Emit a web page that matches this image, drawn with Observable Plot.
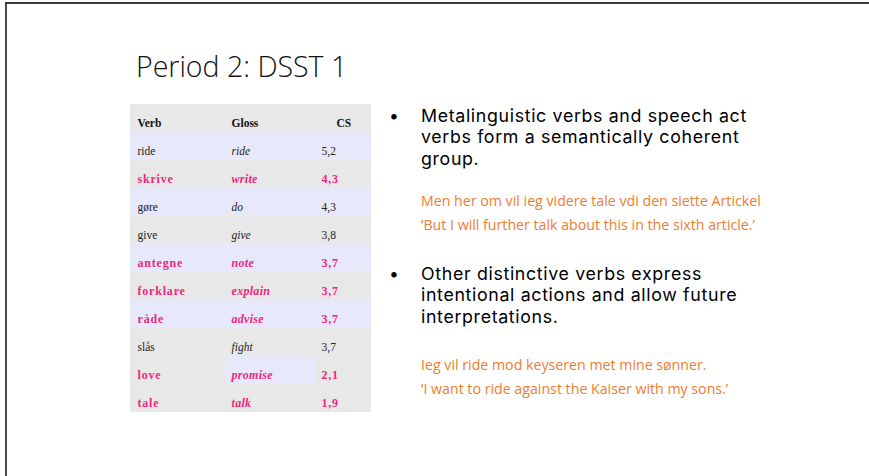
<!DOCTYPE html>
<html>
<head>
<meta charset="utf-8">
<script src="https://cdn.jsdelivr.net/npm/d3@7"></script>
<script src="https://cdn.jsdelivr.net/npm/@observablehq/plot@0.6"></script>
<style>
  html, body { margin: 0; padding: 0; background: #fff; overflow: hidden; }
  #page { position: relative; width: 869px; height: 476px; overflow: hidden; }
  #frame { position: absolute; left: 5px; top: 2px; width: 900px; height: 500px;
           border-top: 2px solid #3a3a3a; border-left: 2px solid #4a4a4a; box-sizing: border-box; }
  #title { position: absolute; left: 136px; top: 49px; font-family: "Open Sans", sans-serif;
           font-weight: 300; font-size: 28.5px; line-height: 34px; color: #111; white-space: nowrap; }
  #table { position: absolute; left: 130px; top: 102px; }
  .bul { position: absolute; font-family: Inter, "Open Sans", sans-serif; font-size: 17.8px; letter-spacing: 0.65px; line-height: 21.6px; color: #000; white-space: nowrap; }
  .dot { position: absolute; left: 389px; font-family: Inter, "Open Sans", sans-serif; font-size: 17.5px; line-height: 21.6px; color: #000; }
  .ex { position: absolute; left: 421px; font-family: "Open Sans", sans-serif; font-size: 14.2px; line-height: 24px; color: #ed7d31; white-space: nowrap; }
</style>
</head>
<body>
<div id="page">
  <div id="frame"></div>
  <div id="title"></div>
  <div id="table"></div>
  <div id="bullets"></div>
</div>
<script>
// ---- data ----
const title = "Period 2: DSST 1";
const headers = ["Verb", "Gloss", "CS"];
const verbs = ["ride", "skrive", "gøre", "give", "antegne", "forklare", "råde", "slås", "love", "tale"];
const glosses = ["ride", "write", "do", "give", "note", "explain", "advise", "fight", "promise", "talk"];
const csValues = [5.2, 4.3, 4.3, 3.8, 3.7, 3.7, 3.7, 3.7, 2.1, 1.9];
const highlighted = ["skrive", "antegne", "forklare", "råde", "love", "tale"];
const shadedRows = ["ride", "gøre", "antegne", "råde"];
const shadedGlossOnly = ["love"];
const bullet1 = ["Metalinguistic verbs and speech act", "verbs form a semantically coherent", "group."];
const example1 = ["Men her om vil ieg videre tale vdi den siette Artickel", "‘But I will further talk about this in the sixth article.’"];
const bullet2 = ["Other distinctive verbs express", "intentional actions and allow future", "interpretations."];
const example2 = ["Ieg vil ride mod keyseren met mine sønner.", "‘I want to ride against the Kaiser with my sons.’"];

// ---- layout (not data) ----
const col = {Verb: [0, 95], Gloss: [95, 185], CS: [185, 241]};
const textPad = {Verb: 7, Gloss: 6, CS: 6};
const headerPad = {Verb: 7, Gloss: 6, CS: 21};
const GRAY = "#e8e8e8", LAV = "#e8e8fb", PINK = "#f0267d";
const serif = "'Liberation Serif', 'Times New Roman', serif";

document.getElementById("title").textContent = title;

const rowsDomain = ["__header", ...verbs];
const rows = verbs.map((v, i) => ({
  verb: v, gloss: glosses[i], cs: d3.format(".1f")(csValues[i]).replace(".", ","),
  hi: highlighted.includes(v)
}));

const cellBg = [];
for (const r of rowsDomain) {
  for (const c of headers) {
    let fill = GRAY;
    if (shadedRows.includes(r)) fill = LAV;
    if (shadedGlossOnly.includes(r) && c === "Gloss") fill = LAV;
    cellBg.push({row: r, column: c, fill});
  }
}

const cellTexts = [];
for (const r of rows) {
  cellTexts.push({row: r.verb, column: "Verb", text: r.verb, hi: r.hi, italic: false});
  cellTexts.push({row: r.verb, column: "Gloss", text: r.gloss, hi: r.hi, italic: true});
  cellTexts.push({row: r.verb, column: "CS", text: r.cs, hi: r.hi, italic: false});
}
const headerTexts = headers.map(h => ({row: "__header", column: h, text: h}));

const txt = (data, opts) => {
  const pad = opts.pad || textPad;
  const o = {...opts}; delete o.pad;
  return Plot.text(data, {
    x: d => col[d.column][0] + pad[d.column],
    y: "row", text: "text", textAnchor: "start", lineAnchor: "middle", dy: 5,
    fontFamily: serif, fontSize: 11.5, ...o
  });
};

const table = Plot.plot({
  width: 241, height: 312,
  marginTop: 0, marginBottom: 0, marginLeft: 0, marginRight: 0,
  x: {type: "linear", domain: [0, 241], range: [0, 241], axis: null},
  y: {type: "band", domain: rowsDomain, padding: 0, axis: null},
  marks: [
    Plot.barX(cellBg, {x1: d => col[d.column][0], x2: d => col[d.column][1], y: "row", fill: d => d.fill, inset: 0}),
    txt(headerTexts, {pad: headerPad, fontWeight: "bold", fill: "#111"}),
    txt(cellTexts.filter(d => !d.hi && !d.italic), {fill: "#222"}),
    txt(cellTexts.filter(d => !d.hi && d.italic), {fill: "#222", fontStyle: "italic"}),
    txt(cellTexts.filter(d => d.hi && !d.italic), {fill: PINK, fontWeight: "bold", fontSize: 12}),
    txt(cellTexts.filter(d => d.hi && d.italic), {fill: PINK, fontWeight: "bold", fontStyle: "italic", fontSize: 12})
  ]
});
table.style.background = "transparent";
table.querySelectorAll(`g[fill="${PINK}"]`).forEach(g => {
  g.setAttribute("letter-spacing", g.getAttribute("font-style") === "italic" ? "0.3" : "0.8");
});
document.getElementById("table").appendChild(table);

// ---- bullet text ----
const B = document.getElementById("bullets");
function add(cls, left, top, lines) {
  const d = document.createElement("div");
  d.className = cls;
  if (left != null) d.style.left = left + "px";
  d.style.top = top + "px";
  lines.forEach((l, i) => { if (i) d.appendChild(document.createElement("br")); d.appendChild(document.createTextNode(l)); });
  B.appendChild(d);
}
add("dot", null, 104.5, ["•"]);
add("bul", 421, 104.5, bullet1);
add("ex", null, 188.5, example1);
add("dot", null, 262.8, ["•"]);
add("bul", 421, 262.8, bullet2);
add("ex", null, 352.5, example2);
</script>
</body>
</html>
